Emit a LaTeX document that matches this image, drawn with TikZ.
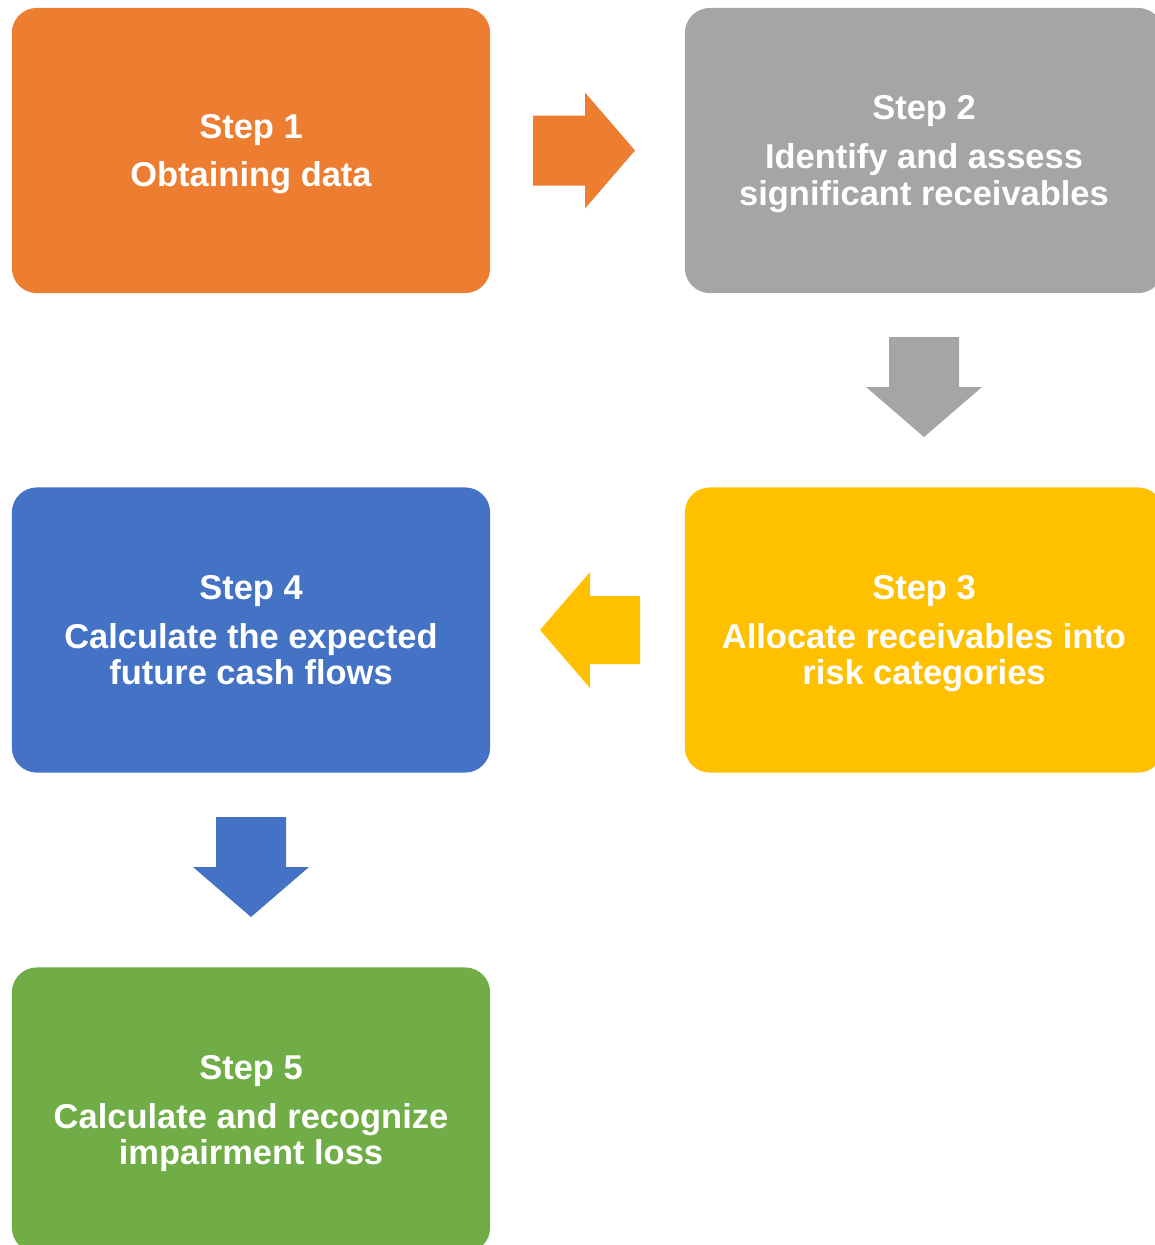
\documentclass[tikz,border=0pt]{standalone}
\usepackage{fontspec}
\setmainfont{Liberation Sans}
\usetikzlibrary{positioning,calc}

\definecolor{steporange}{HTML}{ED7D31}
\definecolor{stepgray}{HTML}{A5A5A5}
\definecolor{stepyellow}{HTML}{FFC000}
\definecolor{stepblue}{HTML}{4472C4}
\definecolor{stepgreen}{HTML}{70AD47}

\tikzset{
	stepbox/.style={rectangle, rounded corners=0.25cm, minimum width=4.78cm, minimum height=2.85cm,
		inner sep=0pt, text=white, align=center, text depth=0pt, font=\fontsize{9.8}{10.3}\selectfont\bfseries},
}

\begin{document}
\begin{tikzpicture}[x=0.01cm, y=-0.01cm]
					\useasboundingbox (0,0) rectangle (1155,1245);
					\clip (0,0) rectangle (1155,1245);
					%Nodes
					\node[stepbox, fill=steporange] (s1) at (251,150.5) {Step 1\\[3.6pt]Obtaining data};
					\node[stepbox, fill=stepgray]   (s2) at (924,150.5) {Step 2\\[3.6pt]Identify and assess\\significant receivables};
					\node[stepbox, fill=stepyellow] (s3) at (924,630) {Step 3\\[3.6pt]Allocate receivables into\\risk categories};
					\node[stepbox, fill=stepblue]   (s4) at (251,630) {Step 4\\[3.6pt]Calculate the expected\\future cash flows};
					\node[stepbox, fill=stepgreen]  (s5) at (251,1110) {Step 5\\[3.6pt]Calculate and recognize\\impairment loss};

					\coordinate (a12) at (584,150.5);
					\coordinate (a23) at (924,387);
					\coordinate (a34) at (590,630);
					\coordinate (a45) at (251,867);

					%Arrows
					\fill[steporange] (a12) ++(-51,-35) -- ++(52,0) -- ++(0,-23) -- ++(50,58) -- ++(-50,58) -- ++(0,-23) -- ++(-52,0) -- cycle;
					\fill[stepgray] (a23) ++(-35,-50) -- ++(70,0) -- ++(0,50) -- ++(23,0) -- ++(-58,50) -- ++(-58,-50) -- ++(23,0) -- cycle;
					\fill[stepyellow] (a34) ++(50,-34) -- ++(-50,0) -- ++(0,-24) -- ++(-50,58) -- ++(50,58) -- ++(0,-24) -- ++(50,0) -- cycle;
					\fill[stepblue] (a45) ++(-35,-50) -- ++(70,0) -- ++(0,50) -- ++(23,0) -- ++(-58,50) -- ++(-58,-50) -- ++(23,0) -- cycle;

				\end{tikzpicture}
\end{document}
